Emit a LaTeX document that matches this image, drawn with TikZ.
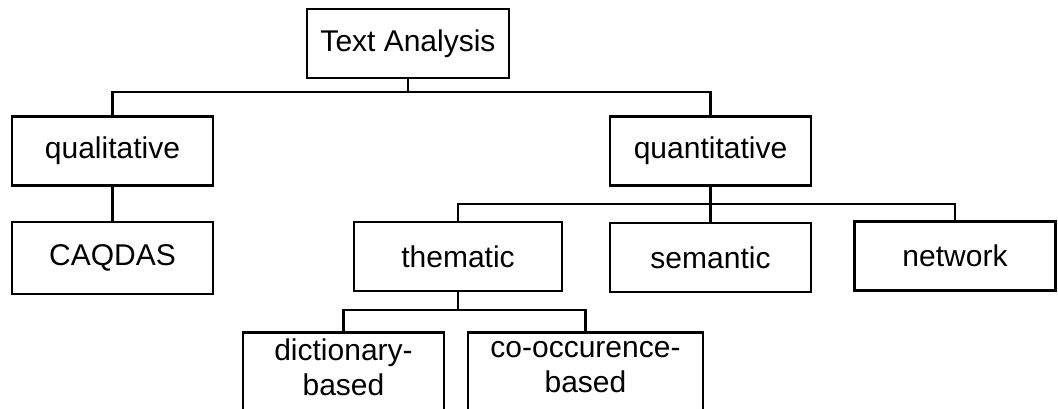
\documentclass[tikz,border=0pt]{standalone}
\usepackage{fontspec}
\setmainfont{Liberation Sans}
\usetikzlibrary{positioning,calc}

\begin{document}
\begin{tikzpicture}[
    x=1pt,y=-1pt,
    catbox/.style={draw=black,line width=2.8pt,fill=white,
      minimum width=#1,minimum height=69pt,inner sep=2pt,align=center,
      font=\fontsize{30}{35}\selectfont},
    catbox/.default=201pt,
    tallbox/.style={minimum height=90pt,text depth=20pt,anchor=north},
    branch/.style={draw=black,line width=2.8pt},
  ]
  \useasboundingbox (0,0) rectangle (1058,409);

  % levels of the tree
  \node[catbox=202pt] (ta) at (408,43.5) {Text Analysis};
  \node[catbox] (qual) at (112.5,151) {qualitative};
  \node[catbox] (quant) at (710.5,151) {quantitative};
  \node[catbox,minimum height=72pt] (caqdas) at (112.5,258) {CAQDAS};
  \node[catbox=208pt] (them) at (458,256.5) {thematic};
  \node[catbox] (sem) at (710.5,257.5) {semantic};
  \node[catbox] (net) at (955,256) {network};
  \node[catbox,tallbox] (dict) at (343.5,331) {dictionary-\\based};
  \node[catbox=235pt,tallbox] (cooc) at (585.5,331) {co-occurence-\\based};

  \coordinate (busA) at (0,92);
  \coordinate (busB) at (0,204);
  \coordinate (busC) at (0,310);

  \draw[branch] (ta.south) -- (ta.south |- busA);
  \draw[branch] (qual.north) |- (quant.north |- busA) -- (quant.north);
  \draw[branch] (qual.south) -- (caqdas.north);

  \draw[branch] (quant.south) -- (sem.north);
  \draw[branch] (them.north) |- (net.north |- busB) -- (net.north);

  \draw[branch] (them.south) -- (them.south |- busC);
  \draw[branch] (dict.north) |- (cooc.north |- busC) -- (cooc.north);

\end{tikzpicture}
\end{document}
